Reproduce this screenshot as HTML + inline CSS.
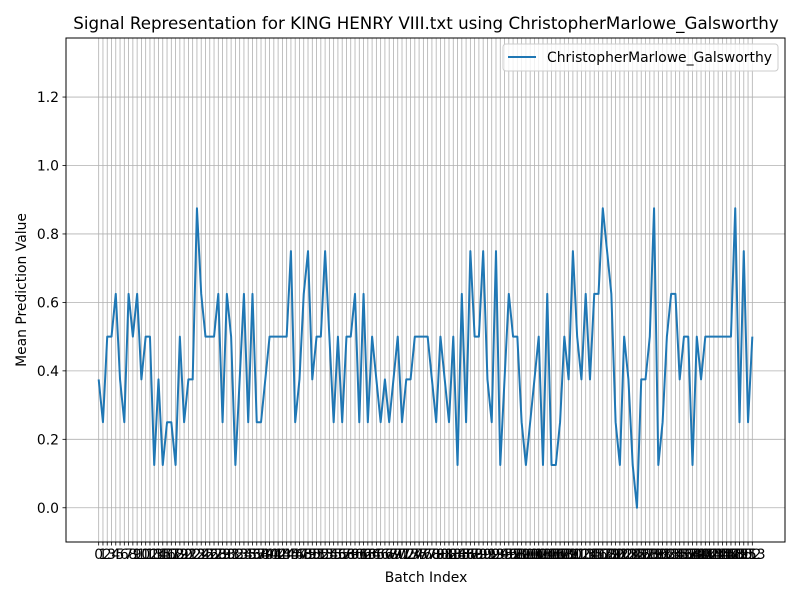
<!DOCTYPE html>
<html><head><meta charset="utf-8"><style>body{margin:0;background:#fff}svg{display:block;font-family:"DejaVu Sans","Liberation Sans",sans-serif}</style></head>
<body>
<svg id="chart" width="800" height="600" viewBox="0 0 800 600" xmlns="http://www.w3.org/2000/svg">
<rect width="800" height="600" fill="#fff"/>
<text x="426" y="29" text-anchor="middle" font-size="16.7">Signal Representation for KING HENRY VIII.txt using ChristopherMarlowe_Galsworthy</text>
<g id="grid"></g>
<g id="xticks"></g>
<g id="yticks"></g>
<path id="series" fill="none" stroke="#1f77b4" stroke-width="2" stroke-linejoin="round"/>
<rect x="66" y="38" width="719" height="504" fill="none" stroke="#000" stroke-width="1"/>
<text x="426" y="582" text-anchor="middle" font-size="13.9">Batch Index</text>
<text transform="translate(26,290) rotate(-90)" text-anchor="middle" font-size="13.9">Mean Prediction Value</text>
<g>
<rect x="503" y="44" width="275" height="27" rx="3" fill="#fff" fill-opacity="0.8" stroke="#ccc"/>
<line x1="508" y1="57" x2="536" y2="57" stroke="#1f77b4" stroke-width="2"/>
<text x="547" y="62" font-size="13.9">ChristopherMarlowe_Galsworthy</text>
</g>
</svg>
<script>
const values = [.375,.25,.5,.5,.625,.375,.25,.625,.5,.625,.375,.5,.5,.125,.375,.125,.25,.25,.125,.5,
.25,.375,.375,.875,.625,.5,.5,.5,.625,.25,.625,.5,.125,.375,.625,.25,.625,.25,.25,.375,
.5,.5,.5,.5,.5,.75,.25,.375,.625,.75,.375,.5,.5,.75,.5,.25,.5,.25,.5,.5,
.625,.25,.625,.25,.5,.375,.25,.375,.25,.375,.5,.25,.375,.375,.5,.5,.5,.5,.375,.25,
.5,.375,.25,.5,.125,.625,.25,.75,.5,.5,.75,.375,.25,.75,.125,.375,.625,.5,.5,.25,
.125,.25,.375,.5,.125,.625,.125,.125,.25,.5,.375,.75,.5,.375,.625,.375,.625,.625,.875,.75,
.625,.25,.125,.5,.375,.125,0,.375,.375,.5,.875,.125,.25,.5,.625,.625,.375,.5,.5,.125,
.5,.375,.5,.5,.5,.5,.5,.5,.5,.875,.25,.75,.25,.5];
const yTicks = [0.0,0.2,0.4,0.6,0.8,1.0,1.2];
const NS="http://www.w3.org/2000/svg";
const L=66,R=785,T=38,B=542;
const n=values.length;
const xmin=-0.05*(n-1), xmax=(n-1)*1.05;
const ymin=-0.1, ymax=1.3725;
const xs=i=>L+(i-xmin)/(xmax-xmin)*(R-L);
const ys=v=>B-(v-ymin)/(ymax-ymin)*(B-T);
const grid=document.getElementById('grid'),xt=document.getElementById('xticks'),yt=document.getElementById('yticks');
function mk(tag,attrs,parent){const e=document.createElementNS(NS,tag);for(const k in attrs)e.setAttribute(k,attrs[k]);parent.appendChild(e);return e;}
for(let i=0;i<n;i++){
  const x=xs(i);
  const g=mk('line',{x1:x,x2:x,y1:T,y2:B,stroke:'#b0b0b0','stroke-width':0.8},grid);
  
  
  const tk=mk('line',{x1:x,x2:x,y1:B,y2:B+3.5,stroke:'#000','stroke-width':0.8},xt);
  
  
  const t=mk('text',{x:x,y:B+17,'text-anchor':'middle','font-size':13.9},xt);
  
  
  t.textContent=String(i);
}
yTicks.forEach(v=>{
  const y=ys(v);
  const g=mk('line',{x1:L,x2:R,y1:y,y2:y,stroke:'#b0b0b0','stroke-width':0.8},grid);
  
  
  const tk=mk('line',{x1:L-3.5,x2:L,y1:y,y2:y,stroke:'#000','stroke-width':0.8},yt);
  
  
  const t=mk('text',{x:L-7,y:y+5,'text-anchor':'end','font-size':13.9},yt);
  
  
  t.textContent=v.toFixed(1);
});
document.getElementById('series').setAttribute('d',values.map((v,i)=>(i?'L':'M')+xs(i).toFixed(2)+','+ys(v).toFixed(2)).join(''));
</script>
</body></html>
